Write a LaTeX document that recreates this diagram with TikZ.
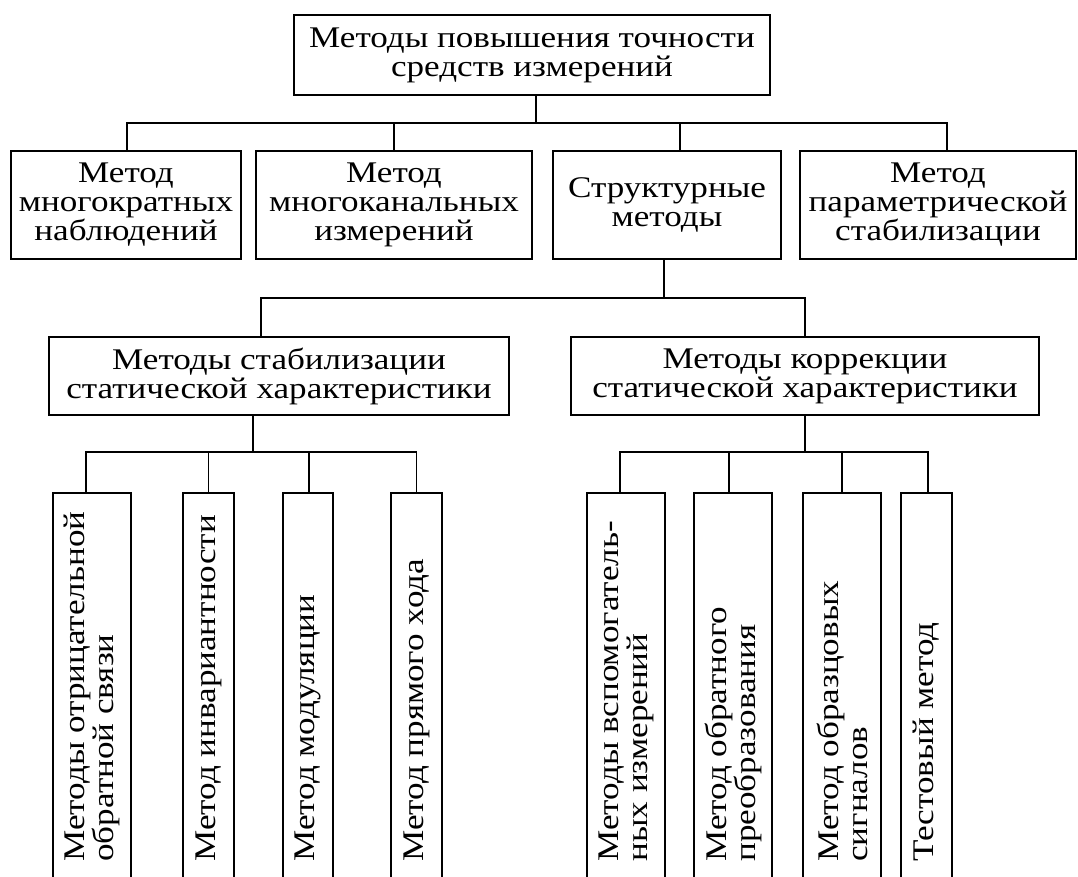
\documentclass[tikz,border=0pt]{standalone}
\usepackage{fontspec}
\setmainfont[FakeStretch=1.17]{Liberation Serif}

\tikzset{
  box/.style={draw, line width=1.8pt, inner sep=0pt, align=center, font=\fontsize{30}{29}\selectfont},
  vbox/.style={draw, line width=1.8pt, inner sep=0pt, anchor=north, minimum height=420pt},
  vtext/.style={rotate=90, anchor=west, inner sep=0pt, align=left, font=\fontsize{30}{29}\selectfont},
  link/.style={line width=1.8pt}
}

\begin{document}
\begin{tikzpicture}[x=1pt,y=-1pt]
    \clip (0,0) rectangle (1078,877);

    % draw top box
    \node[box, minimum width=476pt, minimum height=80pt] (top) at (532,55) {Методы повышения точности\\средств измерений};

    % draw first level boxes
    \node[box, minimum width=230pt, minimum height=108pt] (multi) at (126,205) {Метод\\многократных\\наблюдений};
    \node[box, minimum width=276pt, minimum height=108pt] (chan) at (394,205) {Метод\\многоканальных\\измерений};
    \node[box, minimum width=228pt, minimum height=108pt] (struct) at (667,205) {Структурные\\методы};
    \node[box, minimum width=276pt, minimum height=108pt] (param) at (938,205) {Метод\\параметрической\\стабилизации};

    % draw second level boxes
    \node[box, minimum width=460pt, minimum height=78pt] (stab) at (279,376) {Методы стабилизации\\статической характеристики};
    \node[box, minimum width=468pt, minimum height=78pt] (corr) at (805,376) {Методы коррекции\\статической характеристики};

    % draw vertical boxes
    \node[vbox, minimum width=78pt] (s1) at (92,492) {};
    \node[vbox, minimum width=51pt] (s2) at (208.5,492) {};
    \node[vbox, minimum width=50pt] (s3) at (308,492) {};
    \node[vbox, minimum width=51pt] (s4) at (416.5,492) {};
    \node[vbox, minimum width=78pt] (k1) at (626,492) {};
    \node[vbox, minimum width=78pt] (k2) at (733,492) {};
    \node[vbox, minimum width=78pt] (k3) at (842,492) {};
    \node[vbox, minimum width=51pt] (k4) at (926.5,492) {};

    % draw vertical texts
    \node[vtext] (s1t) at ([yshift=52pt]s1.south) {Методы отрицательной\\обратной связи};
    \node[vtext] (s2t) at ([yshift=52pt]s2.south) {Метод инвариантности};
    \node[vtext] (s3t) at ([yshift=52pt]s3.south) {Метод модуляции};
    \node[vtext] (s4t) at ([yshift=52pt]s4.south) {Метод прямого хода};
    \node[vtext] (k1t) at ([yshift=52pt]k1.south) {Методы вспомогатель-\\ных измерений};
    \node[vtext] (k2t) at ([yshift=52pt]k2.south) {Метод обратного\\преобразования};
    \node[vtext] (k3t) at ([yshift=52pt]k3.south) {Метод образцовых\\сигналов};
    \node[vtext] (k4t) at ([yshift=52pt]k4.south) {Тестовый метод};

    % draw connectors
    \coordinate (bus1) at (536,123);
    \coordinate (bus2) at (664,298);
    \coordinate (bus3) at (253,452);
    \coordinate (bus4) at (805,452);

    \draw[link] ([xshift=4pt]top.south) -- (bus1);
    \foreach \n/\dx in {multi/1,chan/0,struct/13,param/9}
      \draw[link] ([xshift=\dx pt]\n.north) |- (bus1);

    \draw[link] ([xshift=-3pt]struct.south) -- (bus2);
    \draw[link] ([xshift=-18pt]stab.north) |- (bus2);
    \draw[link] (corr.north) |- (bus2);

    \draw[link] ([xshift=-26pt]stab.south) -- (bus3);
    \foreach \n/\dx in {s1/-6,s2/0,s3/1,s4/0}
      \draw[link] ([xshift=\dx pt]\n.north) |- (bus3);

    \draw[link] (corr.south) -- (bus4);
    \foreach \n/\dx in {k1/-6,k2/-4,k3/0,k4/1.5}
      \draw[link] ([xshift=\dx pt]\n.north) |- (bus4);

  \end{tikzpicture}
\end{document}
